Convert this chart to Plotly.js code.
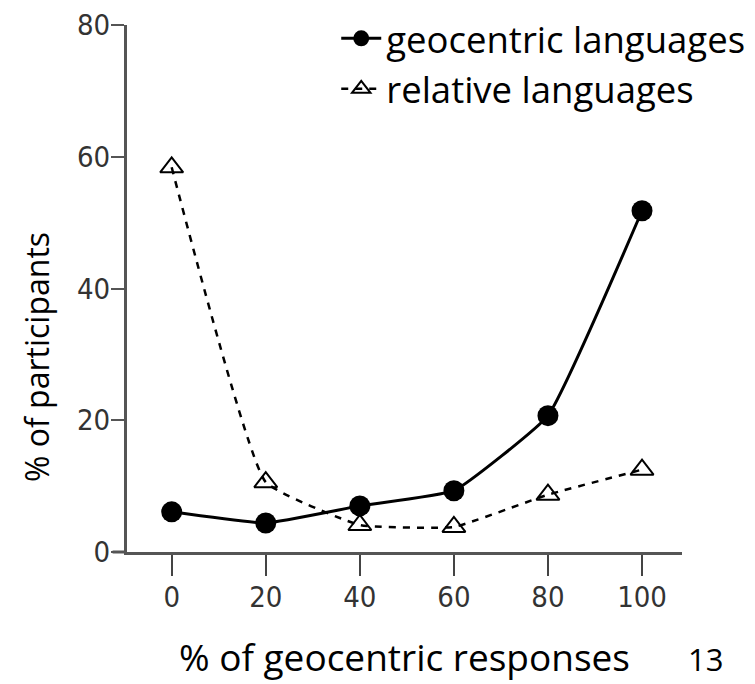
<!DOCTYPE html>
<html>
<head>
<meta charset="utf-8">
<script src="https://cdn.plot.ly/plotly-3.0.1.min.js"></script>
<style>html,body{margin:0;padding:0;background:#fff;}#chart{width:755px;height:684px;}</style>
</head>
<body>
<div id="chart"></div>
<script>
const xValues = [0, 20, 40, 60, 80, 100];
const geocentric = [6.1, 4.4, 7.0, 9.3, 20.7, 51.8];
const relative = [58.4, 10.6, 4.1, 3.8, 8.7, 12.5];
const xTicks = [0, 20, 40, 60, 80, 100];
const yTicks = [0, 20, 40, 60, 80];

const tickFont = {family: '"DejaVu Sans Condensed", "Liberation Sans Narrow", sans-serif', size: 29, color: '#333'};
const legendFont = {family: '"Open Sans", Lato, sans-serif', size: 36.5, color: '#000'};
const xTitleFont = {family: '"Open Sans", Lato, sans-serif', size: 37, color: '#000'};
const yTitleFont = {family: '"Open Sans", Lato, sans-serif', size: 32, color: '#000'};

const traces = [
  {x: xValues, y: geocentric, name: 'geocentric languages', type: 'scatter', mode: 'lines+markers',
   line: {color: '#000', width: 3, shape: 'spline', smoothing: 0.35},
   marker: {symbol: 'circle', size: 21, color: '#000'}},
  {x: xValues, y: relative, name: 'relative languages', type: 'scatter', mode: 'lines+markers',
   line: {color: '#000', width: 2.5, dash: '7px,7px', shape: 'spline', smoothing: 0.35},
   marker: {symbol: 'triangle-up-open', size: 20, color: '#000', line: {width: 2}}}
];

const layout = {
  width: 755, height: 684,
  margin: {l: 127, r: 73, t: 25, b: 132, autoexpand: false},
  paper_bgcolor: '#fff', plot_bgcolor: '#fff',
  showlegend: true,
  legend: {x: 0.377, y: 1.032, xanchor: 'left', yanchor: 'top', font: legendFont,
           bgcolor: 'rgba(0,0,0,0)', tracegroupgap: 0, itemwidth: 40},
  xaxis: {range: [-9.5, 108.5], tickvals: xTicks, ticktext: xTicks.map(String),
          showgrid: false, zeroline: false, showline: true, linecolor: '#555', linewidth: 3,
          ticks: 'outside', ticklen: 21, tickwidth: 2, tickcolor: '#444', tickfont: tickFont,
          ticklabelstandoff: -4,
          title: {text: '% of geocentric responses', font: xTitleFont, standoff: 33}},
  yaxis: {range: [0, 80], tickvals: yTicks, ticktext: yTicks.map(String),
          showgrid: false, zeroline: false, showline: true, linecolor: '#555', linewidth: 3,
          ticks: 'outside', ticklen: 13, tickwidth: 2, tickcolor: '#555', tickfont: tickFont,
          ticklabelstandoff: -5},
  shapes: [
    {type: 'line', xref: 'paper', yref: 'paper', x0: -0.026, x1: 0, y0: 0, y1: 0,
     line: {color: '#555', width: 3}}
  ],
  annotations: [
    {text: '% of participants', xref: 'paper', yref: 'paper', x: -0.164, y: 0.37, textangle: -90,
     xanchor: 'center', yanchor: 'middle', showarrow: false, font: yTitleFont},
    {text: '13', xref: 'paper', yref: 'paper', x: 1.043, y: -0.203, xanchor: 'center', yanchor: 'middle',
     showarrow: false, font: {family: '"Open Sans", Lato, sans-serif', size: 31, color: '#000'}}
  ]
};

Plotly.newPlot('chart', traces, layout, {displayModeBar: false, staticPlot: true});
</script>
</body>
</html>
